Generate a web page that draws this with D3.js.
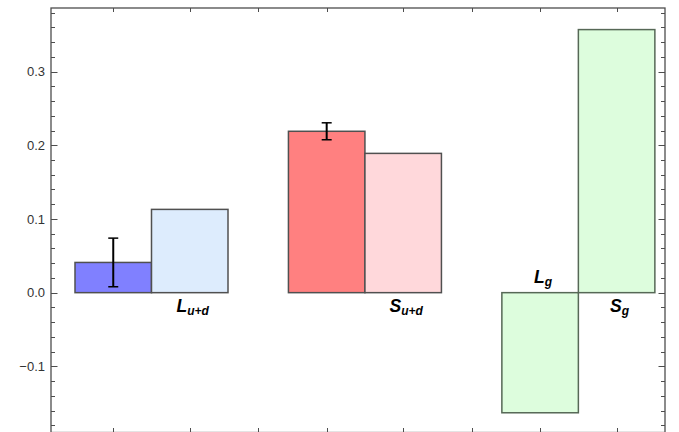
<!DOCTYPE html>
<html><head><meta charset="utf-8">
<script src="https://cdn.jsdelivr.net/npm/d3@7"></script>
<style>body{margin:0;background:#fff}svg{display:block}</style>
</head><body>
<script>
// ---- data ----
const barNames   = ["L_u+d exp", "L_u+d", "S_u+d exp", "S_u+d", "L_g", "S_g"];
const barValues  = [0.041, 0.113, 0.219, 0.189, -0.163, 0.357];
const barErrors  = [0.033, null, 0.0115, null, null, null];
const barGroups  = [0, 0, 1, 1, 2, 2];
const barColors  = ["#8080ff", "#ddecfd", "#ff8080", "#ffd8db", "#ddfddd", "#ddfddd"];
const barStrokes = ["#505050", "#505050", "#505050", "#505050", "#566856", "#566856"];
const labelMain  = [null, "L", null, "S", "L", "S"];
const labelSub   = [null, "u+d", null, "u+d", "g", "g"];
const yTicks     = [-0.1, 0.0, 0.1, 0.2, 0.3];
const yTickLabels= ["\u22120.1", "0.0", "0.1", "0.2", "0.3"];

const W = 679, H = 432;
const frame = {left: 51, right: 665, top: 8, bottom: 432.5};
const gap = 0.79; // gap between groups, in bar widths

const svg = d3.select("body").append("svg").attr("width", W).attr("height", H);

// x in "bar units"
const pos = barNames.map((d, i) => i + barGroups[i] * gap);
const x = d3.scaleLinear().domain([0, 6 + 2 * gap]).range([75, 75 + (6 + 2 * gap) * 76.5]);
const y = d3.scaleLinear().domain([-0.1891, 0.3863]).range([432, 8]);

// tick positions on top/bottom: bar centers and gap centers
const xTickPos = [];
pos.forEach(p => xTickPos.push(p + 0.5));
[0, 1].forEach(g => xTickPos.push(2 * (g + 1) + g * gap + gap / 2));

const axisCol = "#4d4d4d";

// bars
const bars = svg.append("g");
bars.selectAll("rect").data(barValues).join("rect")
  .attr("x", (d, i) => x(pos[i]))
  .attr("width", (d, i) => x(pos[i] + 1) - x(pos[i]))
  .attr("y", d => y(Math.max(0, d)))
  .attr("height", d => Math.abs(y(d) - y(0)))
  .attr("fill", (d, i) => barColors[i])
  .attr("stroke", (d, i) => barStrokes[i])
  .attr("stroke-width", 1.5);

// error bars
const eb = svg.append("g").attr("stroke", "#000").attr("stroke-width", 2);
barValues.forEach((v, i) => {
  if (barErrors[i] == null) return;
  const cx = x(pos[i] + 0.5);
  const capW = 5;
  eb.append("line").attr("x1", cx).attr("x2", cx).attr("y1", y(v + barErrors[i])).attr("y2", y(v - barErrors[i]));
  eb.append("line").attr("x1", cx - capW).attr("x2", cx + capW).attr("y1", y(v + barErrors[i])).attr("y2", y(v + barErrors[i])).attr("stroke-width", 1.5);
  eb.append("line").attr("x1", cx - capW).attr("x2", cx + capW).attr("y1", y(v - barErrors[i])).attr("y2", y(v - barErrors[i])).attr("stroke-width", 1.5);
});

// labels
const lab = svg.append("g").attr("font-family", "Liberation Sans, Arial, sans-serif")
  .attr("font-weight", "bold").attr("font-style", "italic").attr("fill", "#000");
barValues.forEach((v, i) => {
  if (!labelMain[i]) return;
  const cx = x(pos[i] + 0.5) + 3;
  const yy = v >= 0 ? y(0) + 19 : y(0) - 10;
  const t = lab.append("text").attr("x", cx).attr("y", yy).attr("text-anchor", "middle").attr("font-size", 17.5);
  t.append("tspan").text(labelMain[i]);
  t.append("tspan").attr("font-size", 12).attr("dy", 3).text(labelSub[i]);
});

// frame
svg.append("rect").attr("x", frame.left).attr("y", frame.top)
  .attr("width", frame.right - frame.left).attr("height", frame.bottom - frame.top)
  .attr("fill", "none").attr("stroke", axisCol).attr("stroke-width", 1.3);

// y ticks (major + minor) on left and right
const tk = svg.append("g").attr("stroke", axisCol).attr("stroke-width", 1);
const minor = d3.range(-0.18, 0.39, 0.02).map(v => Math.round(v * 100) / 100);
minor.forEach(v => {
  const isMajor = yTicks.some(t => Math.abs(t - v) < 1e-6);
  const len = isMajor ? 6.5 : 4;
  const yy = Math.round(y(v)) + 0.5;
  if (yy < frame.top || yy > H) return;
  tk.append("line").attr("x1", frame.left).attr("x2", frame.left + len).attr("y1", yy).attr("y2", yy);
  tk.append("line").attr("x1", frame.right).attr("x2", frame.right - len).attr("y1", yy).attr("y2", yy);
});
// x ticks on top and bottom
xTickPos.forEach(p => {
  const xx = Math.round(x(p)) + 0.5;
  tk.append("line").attr("x1", xx).attr("x2", xx).attr("y1", frame.top).attr("y2", frame.top + 4);
  tk.append("line").attr("x1", xx).attr("x2", xx).attr("y1", H).attr("y2", H - 4);
});

// y tick labels
svg.append("g").selectAll("text").data(yTicks).join("text")
  .attr("x", frame.left - 6).attr("y", d => y(d)).attr("dy", "0.35em")
  .attr("text-anchor", "end").attr("font-family", "Liberation Sans, Arial, sans-serif")
  .attr("font-size", 13).attr("fill", "#333")
  .text((d, i) => yTickLabels[i]);
</script>
</body></html>
